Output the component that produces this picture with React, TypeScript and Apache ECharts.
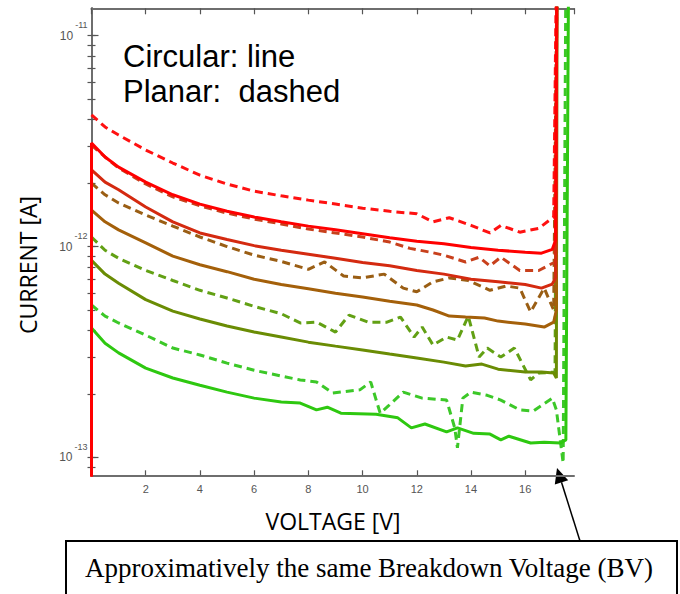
import React, { useEffect, useRef } from "react";
import * as echarts from "echarts";

// [voltage V, current A]
const circularRed: [number, number][] = [[0,5e-14],[0,3.10e-12],[0.5,2.66e-12],[1,2.38e-12],[2,2.02e-12],[3,1.76e-12],[4,1.59e-12],[5,1.47e-12],[6,1.38e-12],[7,1.31e-12],[8,1.25e-12],[9,1.20e-12],[10,1.15e-12],[11,1.10e-12],[12,1.06e-12],[13,1.03e-12],[14,9.9e-13],[15,9.6e-13],[16,9.4e-13],[16.6,9.3e-13],[17.0,9.7e-13],[17.12,1.07e-12],[17.17,2e-11]];
const planarRed: [number, number][] = [[0,4.21e-12],[0.5,3.69e-12],[1,3.38e-12],[2,2.87e-12],[3,2.49e-12],[4,2.18e-12],[5,1.98e-12],[6,1.83e-12],[7,1.74e-12],[8,1.66e-12],[9,1.59e-12],[10,1.52e-12],[11,1.47e-12],[12,1.43e-12],[12.6,1.31e-12],[13.2,1.37e-12],[14,1.26e-12],[14.7,1.16e-12],[15.1,1.26e-12],[15.8,1.17e-12],[16.5,1.22e-12],[17.05,1.38e-12],[17.15,2e-11]];
const circularBrick: [number, number][] = [[0,2.31e-12],[0.5,2.02e-12],[1,1.86e-12],[2,1.54e-12],[3,1.31e-12],[4,1.16e-12],[5,1.08e-12],[6,1.01e-12],[7,9.6e-13],[8,9.2e-13],[9,8.8e-13],[10,8.4e-13],[11,8.1e-13],[12,7.7e-13],[13,7.4e-13],[14,7.0e-13],[15,6.8e-13],[16,6.6e-13],[16.6,6.35e-13],[17.0,6.64e-13],[17.12,7.1e-13],[17.17,2e-11]];
const planarBrick: [number, number][] = [[0,3.03e-12],[0.5,2.66e-12],[1,2.36e-12],[2,1.98e-12],[3,1.72e-12],[4,1.56e-12],[5,1.44e-12],[6,1.35e-12],[7,1.28e-12],[8,1.21e-12],[9,1.16e-12],[10,1.11e-12],[11,1.05e-12],[11.75,9.8e-13],[12.5,9.4e-13],[13,9.1e-13],[13.8,8.45e-13],[14.3,8.9e-13],[14.7,8.1e-13],[15.1,8.9e-13],[15.8,7.7e-13],[16.5,7.7e-13],[17.1,8.45e-13],[17.17,2e-11]];
const circularBrown: [number, number][] = [[0,1.49e-12],[0.5,1.31e-12],[1,1.20e-12],[2,1.04e-12],[3,9.0e-13],[4,8.2e-13],[5,7.6e-13],[6,7.0e-13],[7,6.6e-13],[8,6.3e-13],[9,6.0e-13],[10,5.76e-13],[11,5.5e-13],[12,5.28e-13],[12.6,5.0e-13],[13.2,4.68e-13],[13.8,4.63e-13],[14.5,4.58e-13],[15,4.43e-13],[16,4.29e-13],[16.7,4.15e-13],[17.05,4.38e-13],[17.15,5.0e-13],[17.17,2e-11]];
const planarBrown: [number, number][] = [[0,2.00e-12],[0.5,1.76e-12],[1,1.61e-12],[2,1.41e-12],[3,1.25e-12],[4,1.11e-12],[5,1.0e-12],[6,9.1e-13],[7,8.5e-13],[8,7.8e-13],[8.6,8.45e-13],[9.3,7.25e-13],[10,7.1e-13],[10.8,7.4e-13],[11.5,6.35e-13],[12,6.1e-13],[12.6,6.8e-13],[13.2,7.1e-13],[13.9,6.9e-13],[14.7,6.2e-13],[15.3,6.5e-13],[15.8,6.35e-13],[16.2,4.9e-13],[16.7,6.35e-13],[17.05,5.0e-13],[17.17,2e-11]];
const circularOlive: [number, number][] = [[0,8.6e-13],[0.5,7.4e-13],[1,6.7e-13],[2,5.6e-13],[3,4.94e-13],[4,4.53e-13],[5,4.2e-13],[6,3.93e-13],[7,3.72e-13],[8,3.52e-13],[9,3.37e-13],[10,3.23e-13],[11,3.09e-13],[12,2.96e-13],[13,2.83e-13],[13.8,2.71e-13],[14.4,2.77e-13],[15,2.62e-13],[16,2.54e-13],[16.6,2.54e-13],[17.05,2.51e-13],[17.15,2.38e-13],[17.17,2e-11]];
const planarOlive: [number, number][] = [[0,1.11e-12],[0.5,9.6e-13],[1,8.8e-13],[2,7.7e-13],[3,6.9e-13],[4,6.2e-13],[5,5.7e-13],[6,5.2e-13],[7,4.8e-13],[7.7,4.34e-13],[8.3,4.38e-13],[9,3.93e-13],[9.5,4.73e-13],[10.2,4.38e-13],[10.9,4.38e-13],[11.4,4.63e-13],[11.9,3.72e-13],[12.2,4.15e-13],[12.6,3.41e-13],[13.1,3.72e-13],[13.5,3.6e-13],[13.9,4.68e-13],[14.3,2.99e-13],[14.6,3.3e-13],[15.1,2.99e-13],[15.6,3.3e-13],[16.2,2.33e-13],[16.5,2.51e-13],[17.1,2.54e-13],[17.17,2e-11]];
const circularGreen: [number, number][] = [[0,4.11e-13],[0.5,3.48e-13],[1,3.13e-13],[2,2.65e-13],[3,2.38e-13],[4,2.2e-13],[5,2.04e-13],[6,1.91e-13],[7,1.83e-13],[7.7,1.81e-13],[8.3,1.68e-13],[8.7,1.73e-13],[9.2,1.62e-13],[10.5,1.6e-13],[11.3,1.54e-13],[11.8,1.38e-13],[12.3,1.44e-13],[13.1,1.32e-13],[13.5,1.38e-13],[14.1,1.3e-13],[14.7,1.29e-13],[15.1,1.21e-13],[15.4,1.26e-13],[16.2,1.17e-13],[16.7,1.18e-13],[17.3,1.17e-13],[17.5,1.21e-13],[17.6,2e-11]];
const planarGreen: [number, number][] = [[0,5.28e-13],[0.5,4.68e-13],[1,4.34e-13],[2,3.8e-13],[3,3.3e-13],[4,3.06e-13],[5,2.8e-13],[6,2.59e-13],[7,2.43e-13],[7.7,2.33e-13],[8.3,2.28e-13],[8.9,2.02e-13],[9.9,2.09e-13],[10.3,2.28e-13],[10.65,1.62e-13],[10.9,1.73e-13],[11.5,2.04e-13],[12.2,1.91e-13],[13.1,1.87e-13],[13.4,1.38e-13],[13.5,1.11e-13],[13.7,1.91e-13],[14.0,2.04e-13],[14.6,1.97e-13],[15.1,1.87e-13],[15.8,1.68e-13],[16.3,1.66e-13],[17.0,1.91e-13],[17.15,1.68e-13],[17.4,9.4e-14],[17.5,2e-11]];

const yTickExponents = [-13, -12, -11];
const yMin = -13.085;
const yMax = -10.87;
const xMin = 0;
const xMax = 17.8;

const SANS = "Liberation Sans, Arial, sans-serif";

export default function App() {
  const ref = useRef<HTMLDivElement>(null);
  useEffect(() => {
    document.body.style.margin = "0";
    if (!ref.current) return;
    const chart = echarts.init(ref.current, undefined, { renderer: "svg" });

    const minor: number[] = [];
    for (let n = -14; n <= -11; n++) {
      for (let k = 1; k <= 9; k++) {
        const v = n + Math.log10(k);
        if (v > yMin && v < yMax) minor.push(v);
      }
    }

    const toLog = (d: [number, number][]) => d.map(([v, i]) => [v, Math.log10(i)]);
    const mk = (name: string, d: [number, number][], color: string, dashed: boolean) => ({
      name,
      type: "line",
      data: toLog(d),
      showSymbol: false,
      symbol: "none",
      clip: true,
      lineStyle: { color, width: 3, type: dashed ? [8, 5] : "solid" },
      xAxisIndex: 0,
      yAxisIndex: 0,
    });

    const axisLine = { show: true, lineStyle: { color: "#6e6e6e", width: 2 } };
    const tickStyle = { color: "#555", width: 1.2 };

    chart.setOption({
      animation: false,
      grid: { left: 91.5, right: 106, top: 8.3, bottom: 118.7, outerBoundsMode: "none" },
      xAxis: [
        {
          type: "value", position: "bottom", min: xMin, max: xMax, interval: 2,
          axisLine, splitLine: { show: false },
          axisTick: { inside: true, length: 5, lineStyle: tickStyle },
          axisLabel: {
            formatter: (v: number) => (v === 0 ? "" : String(v)),
            showMaxLabel: false, color: "#555", fontSize: 11, margin: 8, fontFamily: SANS,
          },
        },
        {
          type: "value", position: "top", min: xMin, max: xMax, interval: 2,
          axisLine, splitLine: { show: false },
          axisTick: { inside: true, length: 6, lineStyle: tickStyle },
          axisLabel: { show: false },
        },
      ],
      yAxis: [
        {
          type: "value", position: "left", min: yMin, max: yMax,
          axisLine, splitLine: { show: false },
          axisTick: { inside: true, length: 4, customValues: minor, lineStyle: tickStyle },
          axisLabel: {
            customValues: yTickExponents,
            margin: 4,
            formatter: (v: number) => `{b|10}{s|${Math.round(v)}}`,
            rich: {
              b: { fontSize: 12, lineHeight: 30, color: "#555", fontFamily: SANS },
              s: { fontSize: 9, lineHeight: 10, verticalAlign: "top", color: "#555", fontFamily: SANS, padding: [0, 0, 0, 2] },
            },
          },
        },
        {
          type: "value", position: "right", min: yMin, max: yMax,
          axisLine, splitLine: { show: false },
          axisTick: { inside: true, length: 4, customValues: minor, lineStyle: tickStyle },
          axisLabel: { show: false },
        },
        {
          type: "value", position: "left", min: yMin, max: yMax,
          axisLine: { show: false }, splitLine: { show: false },
          axisTick: { inside: true, length: 7, customValues: yTickExponents, lineStyle: tickStyle },
          axisLabel: { show: false },
        },
      ],
      series: [
        mk("Planar green", planarGreen, "#3cc828", true),
        mk("Circular green", circularGreen, "#2ec810", false),
        mk("Planar olive", planarOlive, "#62a014", true),
        mk("Circular olive", circularOlive, "#6a8c04", false),
        mk("Planar brown", planarBrown, "#9a5e14", true),
        mk("Circular brown", circularBrown, "#a4600a", false),
        mk("Planar brick", planarBrick, "#c8401c", true),
        mk("Circular brick", circularBrick, "#d42a10", false),
        mk("Planar red", planarRed, "#ff1111", true),
        mk("Circular red", circularRed, "#ff0000", false),
      ],
      graphic: [
        { type: "text", left: 123, top: 41, style: { text: "Circular: line", font: `31px ${SANS}`, fill: "#000" } },
        { type: "text", left: 123, top: 76, style: { text: "Planar:  dashed", font: `31px ${SANS}`, fill: "#000" } },
        {
          type: "text", x: 28, y: 265, rotation: Math.PI / 2,
          style: { text: "CURRENT [A]", font: `23px "Open Sans", sans-serif`, fill: "#000", align: "center", verticalAlign: "middle" },
        },
        {
          type: "text", x: 333, y: 521,
          style: { text: "VOLTAGE [V]", font: `23px "Open Sans", sans-serif`, fill: "#000", align: "center", verticalAlign: "middle" },
        },
        {
          type: "rect", shape: { x: 66, y: 541, width: 611, height: 80 },
          style: { fill: "#fff", stroke: "#000", lineWidth: 2 },
        },
        {
          type: "text", x: 369, y: 568,
          style: { text: "Approximatively the same Breakdown Voltage (BV)", font: `27px "Liberation Serif", "Times New Roman", serif`, fill: "#000", align: "center", verticalAlign: "middle" },
        },
        {
          type: "line", shape: { x1: 580, y1: 541, x2: 561.5, y2: 482.3 },
          style: { stroke: "#000", lineWidth: 1.5 },
        },
        {
          type: "polygon", shape: { points: [[557, 468], [568.2, 480.2], [554.8, 484.4]] },
          style: { fill: "#000" },
        },
      ],
    });
    return () => chart.dispose();
  }, []);
  return <div ref={ref} style={{ width: 680, height: 594 }} />;
}
